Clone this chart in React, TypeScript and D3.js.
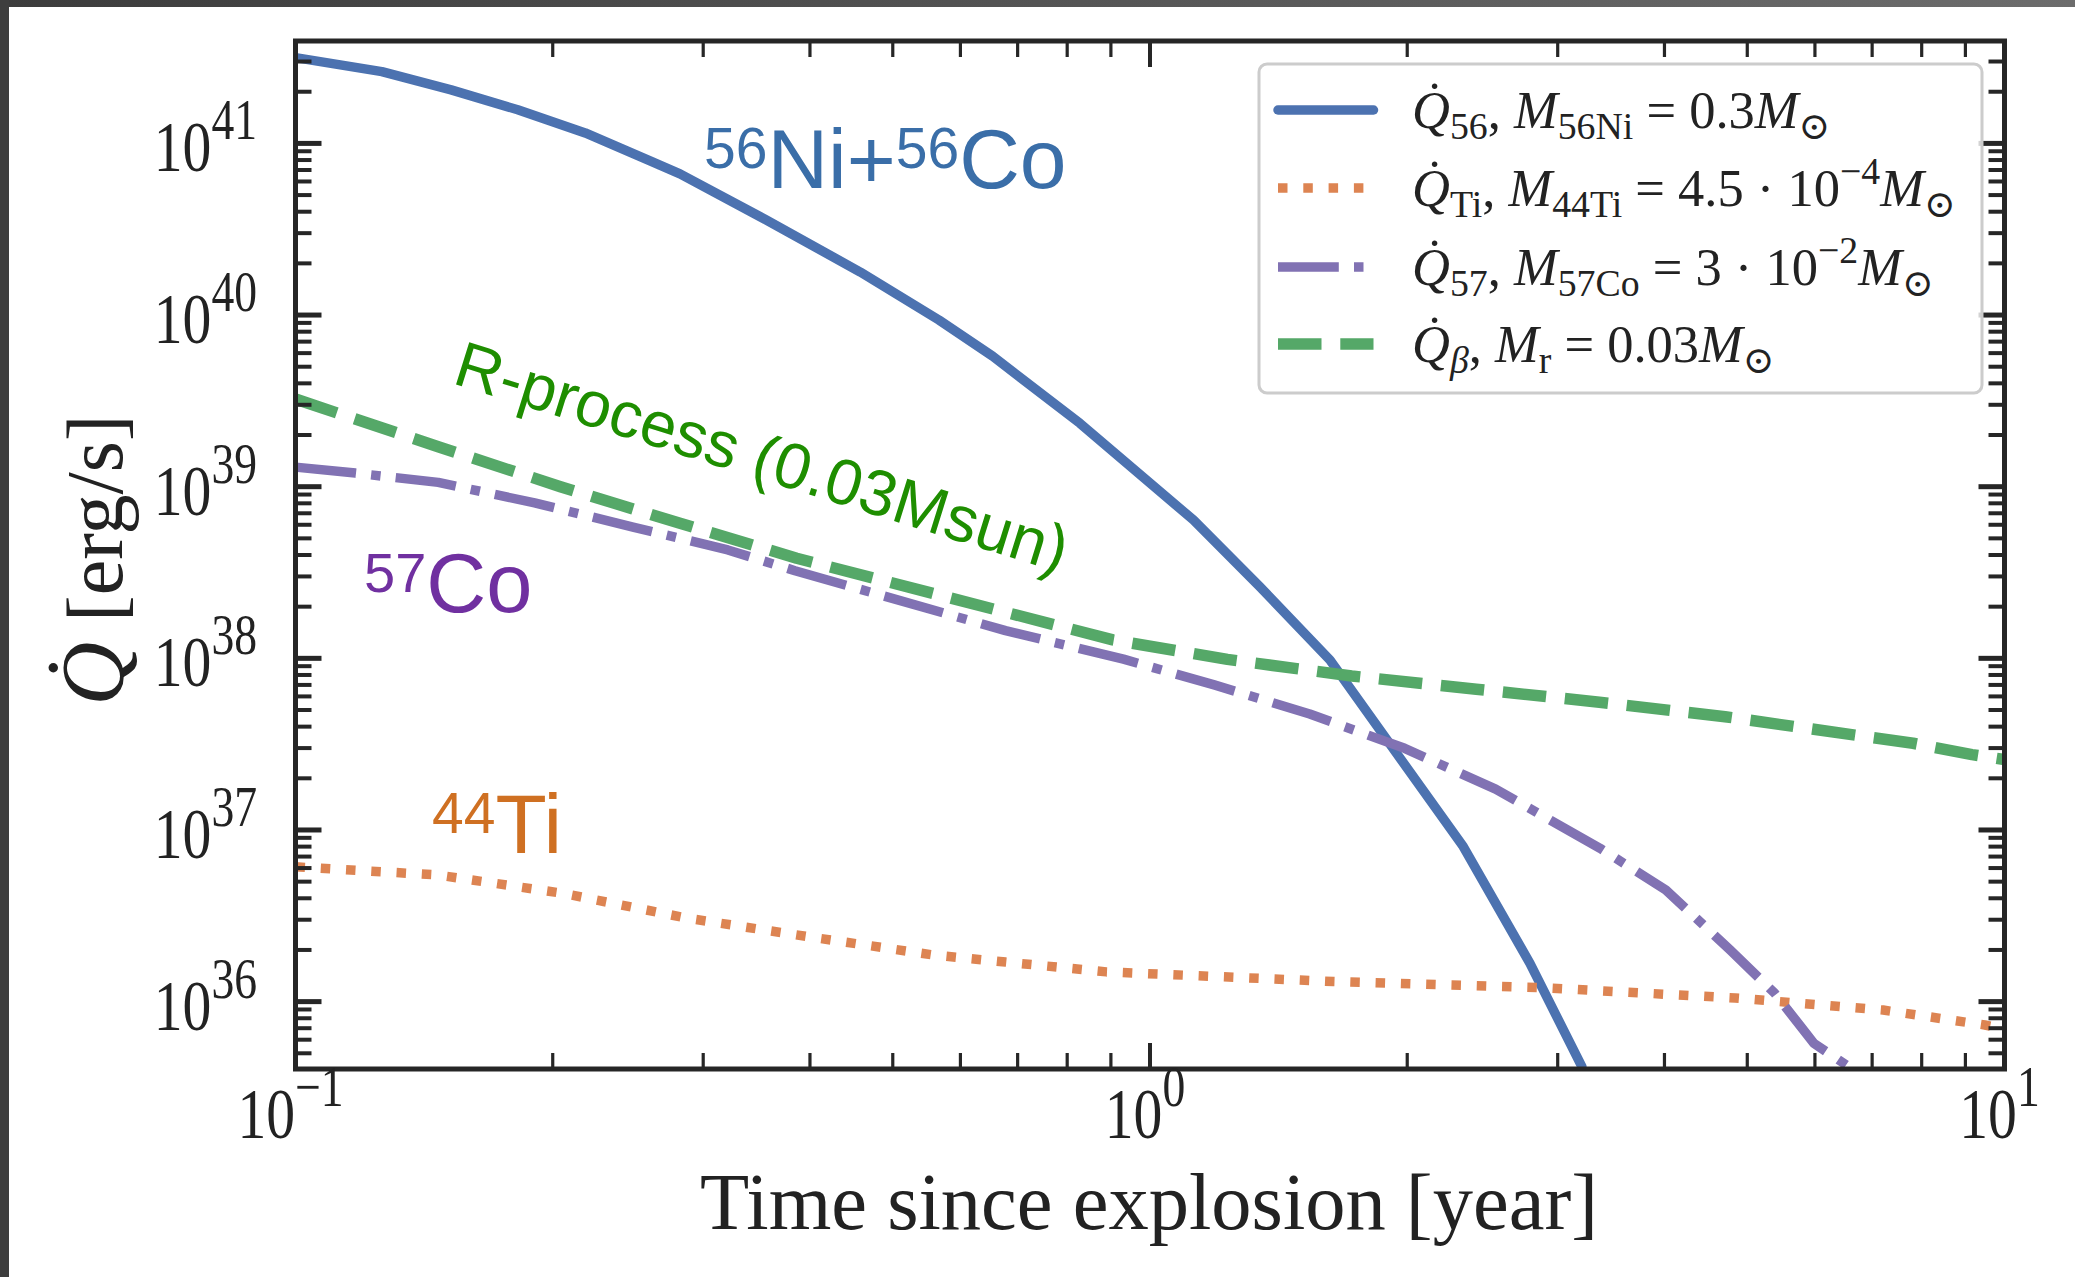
import React from "react";
import * as d3 from "d3";

// ---------------- data ----------------
// time since explosion [yr] and heating rate Q [erg/s]
const tNiCo = [0.1, 0.1262, 0.1521, 0.182, 0.2183, 0.2612, 0.2818, 0.3556, 0.4581, 0.5662, 0.6546, 0.8279, 1.124, 1.345, 1.624, 2.326, 2.784, 3.202];
const qNiCo = [3.16e41, 2.62e41, 2.05e41, 1.57e41, 1.15e41, 7.82e40, 6.64e40, 3.58e40, 1.78e40, 9.35e39, 5.75e39, 2.34e39, 6.4e38, 2.61e38, 9.77e37, 8.0e36, 1.67e36, 4.18e35];

const tTi = [0.1, 0.1466, 0.2053, 0.2877, 0.3981, 0.5572, 0.6776, 0.8892, 1.639, 2.838, 4.842, 7.211, 9.484, 10];
const qTi = [6.1e36, 5.47e36, 4.28e36, 3.06e36, 2.39e36, 1.87e36, 1.7e36, 1.49e36, 1.31e36, 1.21e36, 1.05e36, 8.93e35, 7.31e35, 6.92e35];

const tCo57 = [0.1, 0.1175, 0.1469, 0.1905, 0.2483, 0.3206, 0.3842, 0.6776, 0.9311, 1.189, 1.538, 1.986, 2.538, 3.363, 4.015, 4.775, 5.383, 5.984, 6.577];
const qCo57 = [1.3e39, 1.2e39, 1.06e39, 8.04e38, 5.82e38, 4.28e38, 3.24e38, 1.45e38, 9.89e37, 7.0e37, 4.74e37, 2.99e37, 1.73e37, 7.82e36, 4.47e36, 2.0e36, 1.12e36, 5.71e35, 4.17e35];

const tR = [0.1, 0.1469, 0.2042, 0.2818, 0.3859, 0.6708, 0.9047, 1.232, 1.722, 2.409, 3.357, 4.71, 7.816, 9.162, 10];
const qR = [3.24e39, 1.71e39, 1.0e39, 6.12e38, 3.83e38, 1.88e38, 1.28e38, 9.86e37, 7.89e37, 6.61e37, 5.55e37, 4.57e37, 3.2e37, 2.75e37, 2.57e37];

const xDomain = [0.1, 10];
const yDomain = [4.05e35, 3.95e41];
const xMajorTicks = [0.1, 1, 10];
const xTickExponents = ["\u22121", "0", "1"];
const yMajorTicks = [1e36, 1e37, 1e38, 1e39, 1e40, 1e41];
const yTickExponents = ["36", "37", "38", "39", "40", "41"];

// ---------------- layout ----------------
const W = 2075;
const H = 1277;
const PL = 295.5, PR = 2004.5, PT = 41, PB = 1069;
const AX = "#262626";
const SERIF = "'Liberation Serif', 'DejaVu Serif', serif";
const SANS = "'Liberation Sans', Arial, sans-serif";

type Piece = { t: string; s?: "sub" | "sup"; i?: boolean };

function mathSpans(pieces: Piece[], size: number) {
  let cur = 0;
  return pieces.map((p, k) => {
    const target = p.s === "sub" ? size * 0.2 : p.s === "sup" ? -size * 0.42 : 0;
    const dy = target - cur;
    cur = target;
    return (
      <tspan key={k} dy={dy} fontSize={p.s ? size * 0.72 : size} fontStyle={p.i ? "italic" : "normal"}>
        {p.t}
      </tspan>
    );
  });
}

const legendItems = [
  { color: "#4C72B0", width: 9.5, dash: "none", cap: "round",
    label: [{ t: "Q\u0307", i: true }, { t: "56", s: "sub" }, { t: ", " }, { t: "M", i: true }, { t: "56Ni", s: "sub" }, { t: " = 0.3" }, { t: "M", i: true }, { t: "\u2299", s: "sub" }] as Piece[] },
  { color: "#DD8452", width: 9.5, dash: "9.5,15.8", cap: "butt",
    label: [{ t: "Q\u0307", i: true }, { t: "Ti", s: "sub" }, { t: ", " }, { t: "M", i: true }, { t: "44Ti", s: "sub" }, { t: " = 4.5 \u00b7 10" }, { t: "\u22124", s: "sup" }, { t: "M", i: true }, { t: "\u2299", s: "sub" }] as Piece[] },
  { color: "#8172B3", width: 9.5, dash: "60.8,15.2,9.5,15.2", cap: "butt",
    label: [{ t: "Q\u0307", i: true }, { t: "57", s: "sub" }, { t: ", " }, { t: "M", i: true }, { t: "57Co", s: "sub" }, { t: " = 3 \u00b7 10" }, { t: "\u22122", s: "sup" }, { t: "M", i: true }, { t: "\u2299", s: "sub" }] as Piece[] },
  { color: "#55A868", width: 11.5, dash: "43.5,18.8", cap: "butt",
    label: [{ t: "Q\u0307", i: true }, { t: "\u03b2", s: "sub", i: true }, { t: ", " }, { t: "M", i: true }, { t: "r", s: "sub" }, { t: " = 0.03" }, { t: "M", i: true }, { t: "\u2299", s: "sub" }] as Piece[] },
];

export default function App() {
  const x = d3.scaleLog().domain(xDomain).range([PL, PR]);
  const y = d3.scaleLog().domain(yDomain).range([PB, PT]);
  const line = d3
    .line<[number, number]>()
    .x((d) => x(d[0]))
    .y((d) => y(d[1]));

  const series = [
    { t: tNiCo, q: qNiCo, ...legendItems[0] },
    { t: tTi, q: qTi, ...legendItems[1] },
    { t: tCo57, q: qCo57, ...legendItems[2] },
    { t: tR, q: qR, ...legendItems[3] },
  ];

  const isMajor = (v: number) => Math.abs(Math.log10(v) - Math.round(Math.log10(v))) < 1e-6;
  const xTicks = x.ticks().filter((v) => v >= xDomain[0] * 0.999 && v <= xDomain[1] * 1.001);
  const yTicks = y.ticks().filter((v) => v >= yDomain[0] && v <= yDomain[1]);

  const legX = 1259, legY = 64, legW = 723, legH = 329;
  const rowY = [110, 188, 267, 344];

  return (
    <svg
      width={W}
      height={H}
      viewBox={`0 0 ${W} ${H}`}
      style={{ position: "absolute", left: 0, top: 0, display: "block" }}
    >
      <defs>
        <linearGradient id="topbar" x1="0" x2="1" y1="0" y2="0">
          <stop offset="0" stopColor="#3c3c3c" />
          <stop offset="1" stopColor="#6c6c6c" />
        </linearGradient>
        <clipPath id="plotclip">
          <rect x={PL} y={PT} width={PR - PL} height={PB - PT} />
        </clipPath>
      </defs>
      <rect x={0} y={0} width={W} height={H} fill="#ffffff" />
      <rect x={0} y={0} width={W} height={7} fill="url(#topbar)" />
      <rect x={0} y={0} width={9} height={H} fill="#3e3e3e" />

      {/* curves */}
      <g clipPath="url(#plotclip)">
        {series.map((s, k) => (
          <path
            key={k}
            d={line(s.t.map((tv, j) => [tv, s.q[j]] as [number, number])) || ""}
            fill="none"
            stroke={s.color}
            strokeWidth={s.width}
            strokeDasharray={s.dash}
            strokeLinecap={s.cap as any}
            strokeLinejoin="round"
          />
        ))}
      </g>

      {/* ticks */}
      <g stroke={AX}>
        {xTicks.map((v, k) => {
          const L = isMajor(v) ? 26 : 16;
          const sw = isMajor(v) ? 4 : 3.2;
          return (
            <g key={"xt" + k} strokeWidth={sw}>
              <line x1={x(v)} x2={x(v)} y1={PB} y2={PB - L} />
              <line x1={x(v)} x2={x(v)} y1={PT} y2={PT + L} />
            </g>
          );
        })}
        {yTicks.map((v, k) => {
          const L = isMajor(v) ? 26 : 16;
          const sw = isMajor(v) ? 5 : 4;
          return (
            <g key={"yt" + k} strokeWidth={sw}>
              <line x1={PL} x2={PL + L} y1={y(v)} y2={y(v)} />
              <line x1={PR} x2={PR - L} y1={y(v)} y2={y(v)} />
            </g>
          );
        })}
      </g>
      <rect x={PL} y={PT} width={PR - PL} height={PB - PT} fill="none" stroke={AX} strokeWidth={5} />

      {/* tick labels */}
      <g fontFamily={SERIF} fill="#222">
        {xMajorTicks.map((v, k) => (
          <text key={"xl" + k} transform={`translate(${x(v) - 5},${1138}) scale(0.8,1)`} textAnchor="middle" fontSize={72}>
            10
            <tspan fontSize={57} dy={-32}>{xTickExponents[k]}</tspan>
          </text>
        ))}
        {yMajorTicks.map((v, k) => (
          <text key={"yl" + k} transform={`translate(257,${y(v) + 28}) scale(0.8,1)`} textAnchor="end" fontSize={72}>
            10
            <tspan fontSize={57} dy={-32}>{yTickExponents[k]}</tspan>
          </text>
        ))}
      </g>

      {/* axis labels */}
      <text x={(PL + PR) / 2 - 1} y={1229} textAnchor="middle" fontFamily={SERIF} fontSize={80.5} fill="#222">
        Time since explosion [year]
      </text>
      <text
        transform={`translate(122,560) rotate(-90)`}
        textAnchor="middle"
        fontFamily={SERIF}
        fontSize={80}
        fill="#222"
        style={{ whiteSpace: "pre" }}
      >
        <tspan fontStyle="italic" fontSize={88}>{"Q\u0307"}</tspan>
        <tspan>{" [erg/s]"}</tspan>
      </text>

      {/* annotations */}
      <text x={704} y={188} fontFamily={SANS} fontSize={84} fill="#3A6EA8">
        <tspan fontSize={57} dy={-20}>56</tspan>
        <tspan dy={20}>Ni+</tspan>
        <tspan fontSize={57} dy={-20}>56</tspan>
        <tspan dy={20}>Co</tspan>
      </text>
      <text x={364} y={612} fontFamily={SANS} fontSize={83} fill="#7030A0">
        <tspan fontSize={56} dy={-20}>57</tspan>
        <tspan dy={20}>Co</tspan>
      </text>
      <text x={432} y={853} fontFamily={SANS} fontSize={84} fill="#CF7022">
        <tspan fontSize={57} dy={-20}>44</tspan>
        <tspan dy={20}>Ti</tspan>
      </text>
      <text transform="translate(451,383) rotate(17.3)" fontFamily={SANS} fontSize={64.5} fill="#1E8E00">
        R-process (0.03Msun)
      </text>

      {/* legend */}
      <rect x={legX} y={legY} width={legW} height={legH} rx={8} ry={8} fill="#ffffff" fillOpacity={0.8} stroke="#cccccc" strokeWidth={3} />
      {legendItems.map((it, k) => (
        <g key={"lg" + k}>
          <line
            x1={1278}
            x2={1373.5}
            y1={rowY[k]}
            y2={rowY[k]}
            stroke={it.color}
            strokeWidth={it.width}
            strokeDasharray={it.dash}
            strokeLinecap={it.cap as any}
          />
          <text x={1412} y={rowY[k] + 18} fontFamily={SERIF} fill="#222" style={{ whiteSpace: "pre" }}>
            {mathSpans(it.label, 52.5)}
          </text>
        </g>
      ))}
    </svg>
  );
}
